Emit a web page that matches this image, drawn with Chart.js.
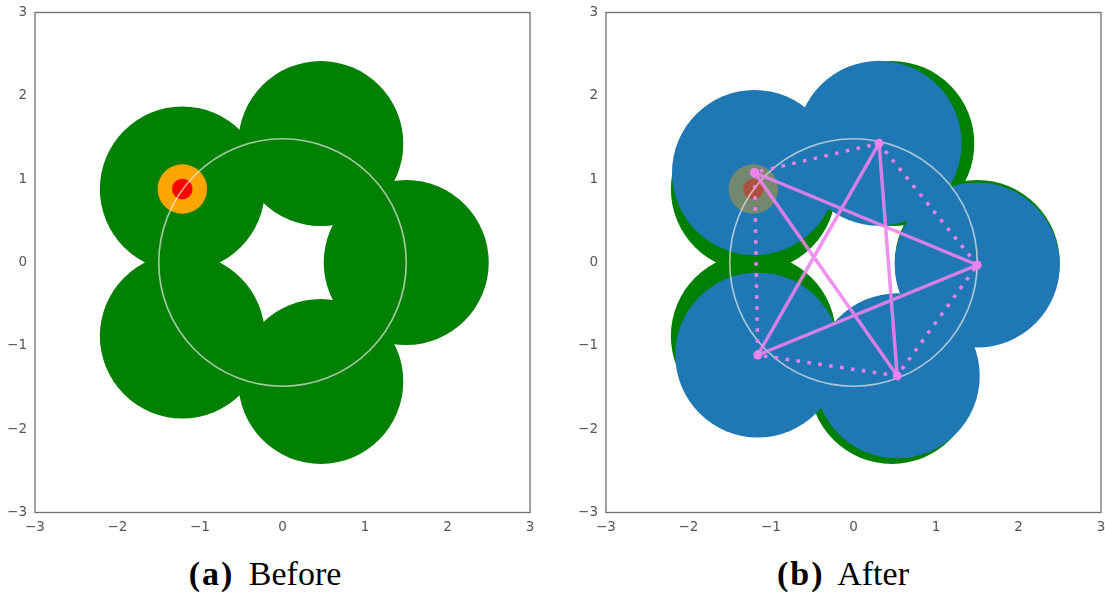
<!DOCTYPE html>
<html>
<head>
<meta charset="utf-8">
<script src="https://cdn.jsdelivr.net/npm/chart.js@4/dist/chart.umd.min.js"></script>
<style>
  html, body { margin: 0; padding: 0; background: #fff; }
  #wrap { position: relative; width: 1105px; height: 592px; overflow: hidden; }
  .panel { position: absolute; top: 0; width: 560px; height: 545px; }
  .cap {
    position: absolute; top: 555px; transform: translateX(-50%);
    font-family: "Liberation Serif", "DejaVu Serif", serif; font-size: 34px;
    color: #000; white-space: nowrap; line-height: 1.1;
  }
  .cap b { font-weight: bold; letter-spacing: 2px; margin-right: 6px; }
</style>
</head>
<body>
<div id="wrap">
  <div class="panel" style="left:0px"><canvas id="before" width="560" height="545"></canvas></div>
  <div class="panel" style="left:571px"><canvas id="after" width="560" height="545"></canvas></div>
  <div class="cap" style="left:265px"><b>(a)</b> Before</div>
  <div class="cap" style="left:843px"><b>(b)</b> After</div>
</div>
<script>
// Circle centres before the update (regular pentagon on the r = 1.5 ring)
const startX = [1.5, 0.464, -1.214, -1.214, 0.464];
const startY = [0.0, 1.427, 0.882, -0.882, -1.427];
// Circle centres after the update
const movedX = [1.50, 0.31, -1.20, -1.16, 0.53];
const movedY = [-0.03, 1.43, 1.08, -1.11, -1.36];
// Radii (data units)
const discRadius = 1.0;
const ringRadius = 1.5;
const targetOuter = 0.3;
const targetInner = 0.125;
// Index of the highlighted centre, and vertex orders of the two polylines
const targetIndex = 2;
const starOrder = [2, 0, 3, 1, 4, 2];
const pentagonOrder = [0, 1, 2, 3, 4, 0];
// Axis ticks
const tickValues = [-3, -2, -1, 0, 1, 2, 3];

const pts = (xs, ys, idx) => (idx || xs.map((_, i) => i)).map(i => ({ x: xs[i], y: ys[i] }));

// radius in pixels for a length given in data units
function pxRadius(chart, r) {
  const s = chart.scales.x;
  return Math.abs(s.getPixelForValue(r) - s.getPixelForValue(0));
}

function discs(label, data, r, fill, order, extra) {
  return Object.assign({
    label, data, order, showLine: false,
    pointRadius: c => pxRadius(c.chart, r),
    pointHoverRadius: c => pxRadius(c.chart, r),
    pointBackgroundColor: fill,
    pointBorderColor: 'rgba(0,0,0,0)',
    pointBorderWidth: 0
  }, extra || {});
}

function ring(order) {
  return discs('ring', [{ x: 0, y: 0 }], ringRadius, 'rgba(0,0,0,0)', order, {
    pointBorderColor: 'rgba(238,238,238,0.68)', pointBorderWidth: 1.7
  });
}

function axis(pos) {
  return {
    type: 'linear', position: pos, min: tickValues[0], max: tickValues[tickValues.length - 1],
    grid: { display: false, drawTicks: false },
    border: { display: false },
    afterBuildTicks: s => { s.ticks = tickValues.map(v => ({ value: v })); },
    ticks: {
      color: '#555', font: { family: 'DejaVu Sans', size: 13.5 },
      padding: pos === 'left' ? 8 : 7, maxRotation: 0, autoSkip: false,
      callback: v => (v < 0 ? '\u2212' : '') + Math.abs(v)
    },
    afterFit: s => {
      if (pos === 'left') s.width = 35; else s.height = 32.5;
      s.paddingTop = 0; s.paddingBottom = 0; s.paddingLeft = 0; s.paddingRight = 0;
    }
  };
}

const frame = {
  id: 'frame',
  afterDatasetsDraw(chart) {
    const { ctx, chartArea: a } = chart;
    ctx.save();
    ctx.strokeStyle = '#6f6f6f';
    ctx.lineWidth = 1.3;
    ctx.strokeRect(a.left, a.top, a.right - a.left, a.bottom - a.top);
    ctx.restore();
  }
};

function makeChart(id, datasets) {
  return new Chart(document.getElementById(id), {
    type: 'scatter',
    data: { datasets },
    options: {
      responsive: false, animation: false, events: [],
      layout: { padding: { left: 0, top: 12.5, right: 30, bottom: 0 } },
      scales: { x: axis('bottom'), y: axis('left') },
      plugins: { legend: { display: false }, tooltip: { enabled: false } }
    },
    plugins: [frame]
  });
}

const target = pts(startX, startY, [targetIndex]);

// (a) Before: discs, the target marker, and the reference ring
makeChart('before', [
  ring(1),
  discs('target inner', target, targetInner, '#ff0000', 2),
  discs('target outer', target, targetOuter, '#ffa500', 3),
  discs('start', pts(startX, startY), discRadius, '#008000', 4)
]);

// (b) After: old discs underneath, moved discs, target, ring and the polylines
makeChart('after', [
  {
    label: 'star', data: pts(movedX, movedY, starOrder), order: 1, showLine: true,
    borderColor: 'rgba(238,130,238,0.88)', borderWidth: 3.5,
    pointRadius: 4.5, pointBackgroundColor: '#ee82ee', pointBorderWidth: 0
  },
  {
    label: 'pentagon', data: pts(movedX, movedY, pentagonOrder), order: 2, showLine: true,
    borderColor: '#ee82ee', borderWidth: 3.5, borderDash: [3.5, 7.5], borderCapStyle: 'butt',
    pointRadius: 0
  },
  ring(3),
  discs('target inner', target, targetInner, 'rgba(255,0,0,0.4)', 4),
  discs('target outer', target, targetOuter, 'rgba(255,165,0,0.38)', 5),
  discs('moved', pts(movedX, movedY), discRadius, '#1f77b4', 6),
  discs('start', pts(startX, startY), discRadius, '#008000', 7)
]);
</script>
</body>
</html>
